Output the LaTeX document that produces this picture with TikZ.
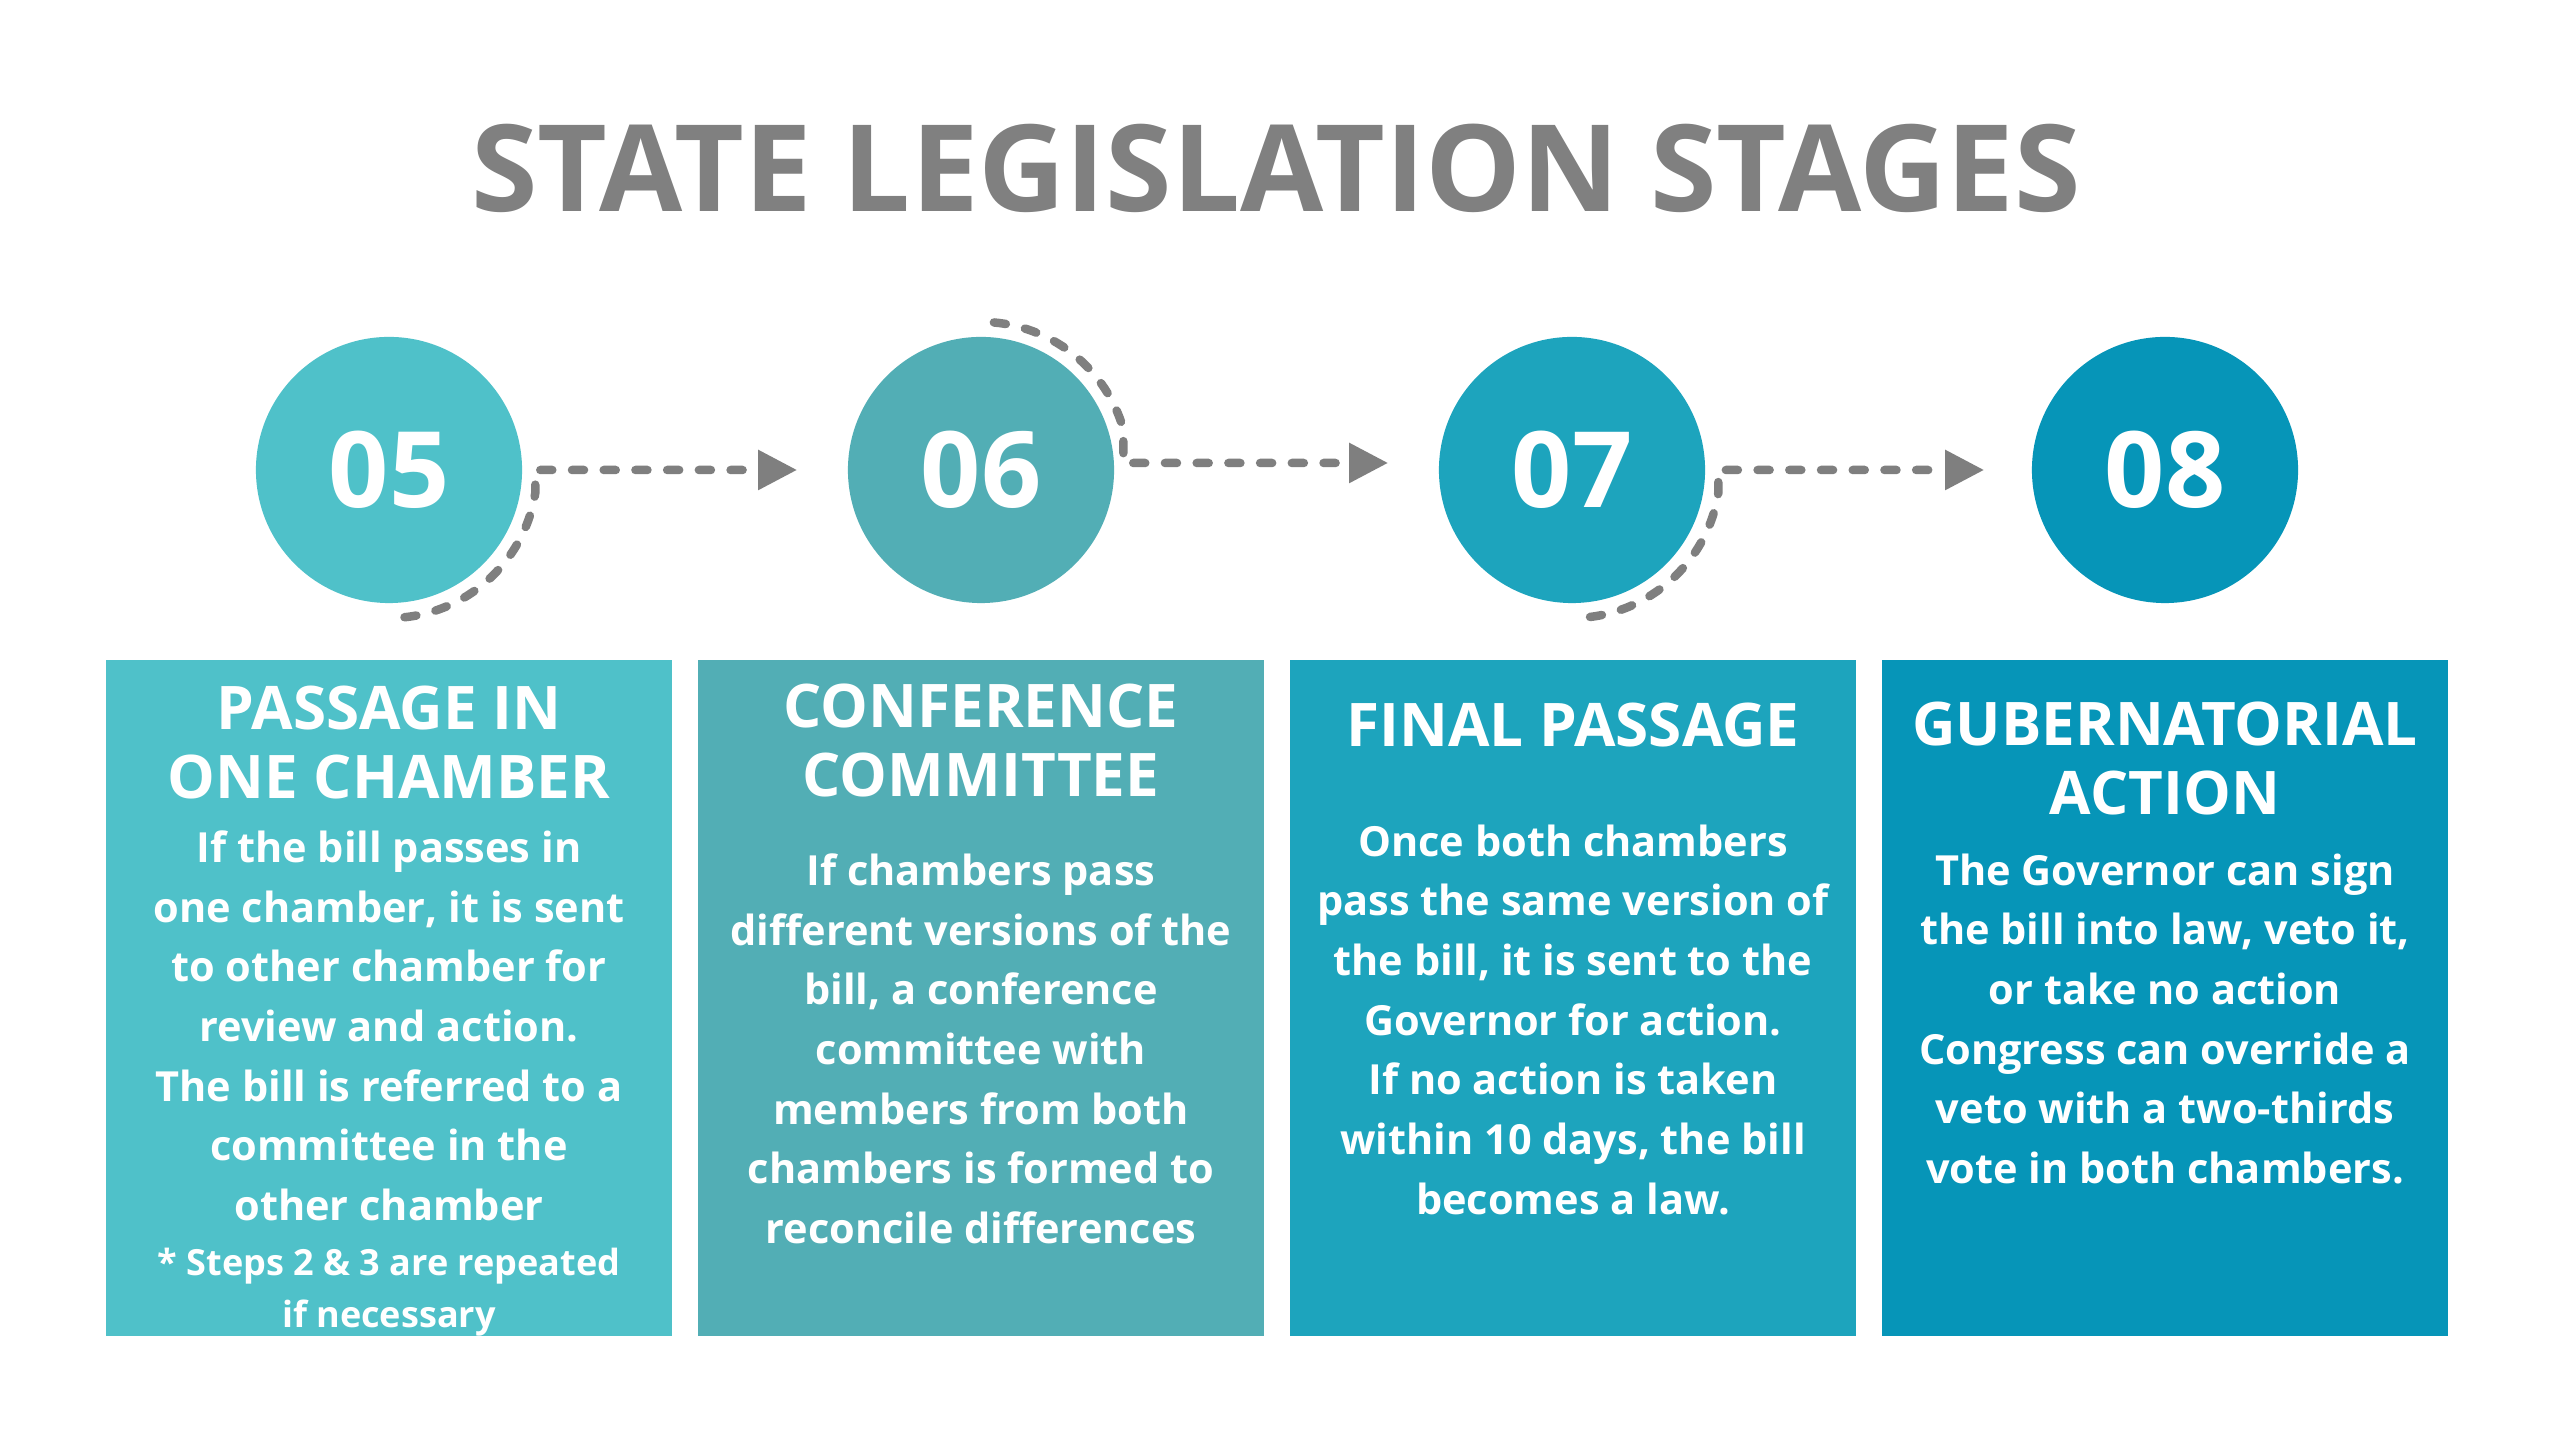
\documentclass[tikz,border=0pt]{standalone}
\usepackage{fontspec}
\setmainfont{Open Sans}
\usetikzlibrary{arrows.meta}
\definecolor{cA}{HTML}{4FC1C9}
\definecolor{cB}{HTML}{52AEB5}
\definecolor{cC}{HTML}{1DA4BD}
\definecolor{cD}{HTML}{0695B8}
\definecolor{titlegray}{HTML}{808080}
\definecolor{linegray}{HTML}{7F7F7F}
\tikzset{
  numcircle/.style={circle, minimum size=2.66cm, inner sep=0pt, text=white,
    font=\bfseries\fontsize{30}{30}\selectfont},
  stagebox/.style={rectangle, minimum width=5.65cm, minimum height=6.76cm, inner sep=0pt},
  headtext/.style={anchor=north, inner sep=0pt, text=white, align=center,
    font=\bfseries\fontsize{17.1}{19.6}\selectfont},
  bodytext/.style={anchor=north, inner sep=0pt, text=white, align=center,
    font=\bfseries\fontsize{11.8}{16.96}\selectfont},
  foottext/.style={anchor=north, inner sep=0pt, text=white, align=center,
    font=\bfseries\fontsize{10.25}{14.8}\selectfont},
  conn/.style={draw=linegray, line width=0.085cm, line cap=round,
    dash pattern=on 0.12cm off 0.197cm,
    -{Triangle[length=0.39cm, width=0.38cm]}},
}
\begin{document}
\begin{tikzpicture}[x=0.01cm, y=0.01cm]
\fill[white] (0,0) rectangle (2560,1440);
\useasboundingbox (0,0) rectangle (2560,1440);

\node[anchor=base, text=titlegray, inner sep=0pt,
  font=\bfseries\fontsize{34.3}{40}\selectfont] (title) at (1276,1228) {STATE LEGISLATION STAGES};

\node[numcircle, fill=cA] (c05) at (389,970) {05};
\node[numcircle, fill=cB] (c06) at (981,970) {06};
\node[numcircle, fill=cC] (c07) at (1572,970) {07};
\node[numcircle, fill=cD] (c08) at (2165,970) {08};

\draw[conn] ([shift={(-84:1.48cm)}]c05.center) arc[start angle=-84, end angle=-9, radius=1.48cm]
  |- ([xshift=-0.5cm]c06.west);
\draw[conn] ([shift={(85:1.48cm)}]c06.center) arc[start angle=85, end angle=16, radius=1.48cm]
  |- ([xshift=-0.5cm, yshift=0.07cm]c07.west);
\draw[conn] ([shift={(-83:1.48cm)}]c07.center) arc[start angle=-83, end angle=-9, radius=1.48cm]
  |- ([xshift=-0.47cm]c08.west);

\node[stagebox, fill=cA] (b05) at (389,442) {};
\node[stagebox, fill=cB] (b06) at (981,442) {};
\node[stagebox, fill=cC] (b07) at (1573,442) {};
\node[stagebox, fill=cD] (b08) at (2165,442) {};

\node[headtext] (h05) at (389,755) {PASSAGE IN\\ONE CHAMBER};
\node[bodytext] (t05) at (389,610) {If the bill passes in\\one chamber, it is sent\\to other chamber for\\review and action.\\The bill is referred to a\\committee in the\\other chamber};
\node[foottext] (f05) at (389,193) {* Steps 2 \& 3 are repeated\\if necessary};

\node[headtext] (h06) at (981,757) {CONFERENCE\\COMMITTEE};
\node[bodytext] (t06) at (981,587) {If chambers pass\\different versions of the\\bill, a conference\\committee with\\members from both\\chambers is formed to\\reconcile differences};

\node[headtext] (h07) at (1573,738) {FINAL PASSAGE};
\node[bodytext] (t07) at (1573,616) {Once both chambers\\pass the same version of\\the bill, it is sent to the\\Governor for action.\\If no action is taken\\within 10 days, the bill\\becomes a law.};

\node[headtext] (h08) at (2165,739) {GUBERNATORIAL\\ACTION};
\node[bodytext] (t08) at (2165,587) {The Governor can sign\\the bill into law, veto it,\\or take no action\\Congress can override a\\veto with a two-thirds\\vote in both chambers.};
\end{tikzpicture}
\end{document}
